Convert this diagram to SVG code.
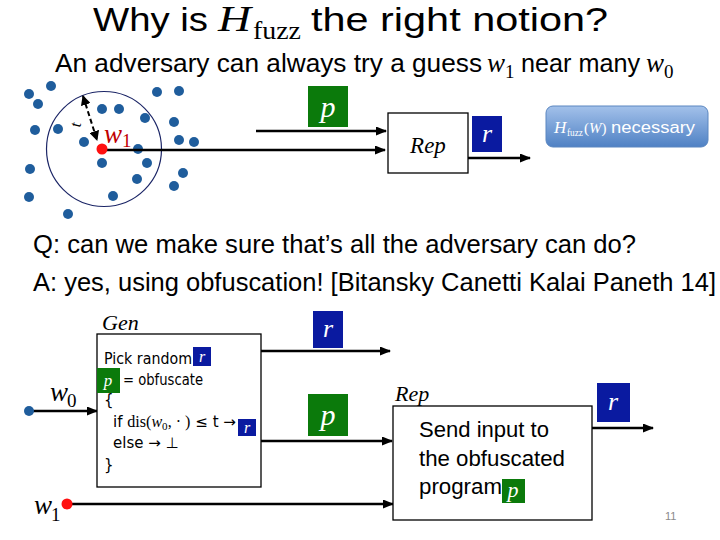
<svg xmlns="http://www.w3.org/2000/svg" width="720" height="540" viewBox="0 0 720 540">
<style>
.sans{font-family:"Liberation Sans",Arial,sans-serif;fill:#000}
.math{font-family:"Liberation Serif","Times New Roman",serif;font-style:italic}
.rom{font-family:"Liberation Serif","Times New Roman",serif}
.code{font-family:"DejaVu Sans",Verdana,sans-serif;font-size:15px;fill:#000}
.dot{fill:#1f5d9c}
.red{fill:#ff1010}
.wire{stroke:#000;stroke-width:2.5;fill:none}
.box{fill:#fff;stroke:#000;stroke-width:1.3}
.gbox{fill:#0b7a0b}
.bbox{fill:#0a1aa0}
.var{font-family:"Liberation Serif","Times New Roman",serif;font-style:italic;fill:#fff}
.wt{fill:#fff}
</style>
<defs>
<marker id="ah" markerUnits="userSpaceOnUse" markerWidth="11" markerHeight="9" refX="10" refY="4.5" orient="auto">
<path d="M0,0 L11,4.5 L0,9 z" fill="#000"/>
</marker>
<marker id="ahs" markerUnits="userSpaceOnUse" markerWidth="10" markerHeight="10" refX="9" refY="5" orient="auto-start-reverse">
<path d="M0,0 L10,5 L0,10 z" fill="#000"/>
</marker>
<linearGradient id="bg" x1="0" y1="0" x2="0" y2="1">
<stop offset="0" stop-color="#a3c1ea"/>
<stop offset="1" stop-color="#4f81c4"/>
</linearGradient>
</defs>

<g id="title">
<text class="sans" x="93" y="31" font-size="34" textLength="115" lengthAdjust="spacingAndGlyphs">Why is</text>
<text class="math" x="218" y="31" font-size="36" textLength="33" lengthAdjust="spacingAndGlyphs">H</text>
<text class="rom" x="253" y="39" font-size="26" textLength="48" lengthAdjust="spacingAndGlyphs">fuzz</text>
<text class="sans" x="311" y="31" font-size="34" textLength="297" lengthAdjust="spacingAndGlyphs">the right notion?</text>
</g>

<g id="subtitle">
<text class="sans" x="55" y="72" font-size="26" textLength="427" lengthAdjust="spacingAndGlyphs">An adversary can always try a guess</text>
<text class="math" x="487" y="72" font-size="27">w</text>
<text class="rom" x="505" y="78" font-size="19">1</text>
<text class="sans" x="521" y="72" font-size="26" textLength="119" lengthAdjust="spacingAndGlyphs">near many</text>
<text class="math" x="646" y="72" font-size="27">w</text>
<text class="rom" x="664" y="78" font-size="19">0</text>
</g>

<g id="cloud">
<circle cx="104" cy="149" r="57.5" fill="none" stroke="#1b2566" stroke-width="1.2"/>
<circle class="dot" cx="29" cy="94" r="5"/>
<circle class="dot" cx="51" cy="86" r="5"/>
<circle class="dot" cx="38" cy="104" r="5"/>
<circle class="dot" cx="35" cy="130" r="5"/>
<circle class="dot" cx="58" cy="129" r="5"/>
<circle class="dot" cx="102" cy="109" r="5"/>
<circle class="dot" cx="119" cy="109" r="5"/>
<circle class="dot" cx="157" cy="92" r="5"/>
<circle class="dot" cx="179" cy="91" r="5"/>
<circle class="dot" cx="145" cy="118" r="5"/>
<circle class="dot" cx="174" cy="122" r="5"/>
<circle class="dot" cx="84" cy="142" r="5"/>
<circle class="dot" cx="138" cy="149" r="5"/>
<circle class="dot" cx="179" cy="140" r="5"/>
<circle class="dot" cx="194" cy="142" r="5"/>
<circle class="dot" cx="102" cy="163" r="5"/>
<circle class="dot" cx="147" cy="163" r="5"/>
<circle class="dot" cx="30" cy="169" r="5"/>
<circle class="dot" cx="137" cy="179" r="5"/>
<circle class="dot" cx="183" cy="173" r="5"/>
<circle class="dot" cx="174" cy="186" r="5"/>
<circle class="dot" cx="29" cy="197" r="5"/>
<circle class="dot" cx="113" cy="196" r="5"/>
<circle class="dot" cx="68" cy="214" r="5"/>
<line x1="83" y1="96" x2="97" y2="140" stroke="#000" stroke-width="2" stroke-dasharray="5,3" marker-start="url(#ahs)" marker-end="url(#ahs)"/>
<text class="rom" x="0" y="0" font-size="16" transform="translate(80,128) rotate(-75)">t</text>
<text class="math" x="104" y="143" font-size="27" fill="#c00000">w</text>
<text class="rom" x="122" y="147" font-size="19" fill="#c00000">1</text>
</g>

<g id="top-wires">
<line class="wire" x1="256" y1="131" x2="386" y2="131" marker-end="url(#ah)"/>
<line class="wire" x1="102" y1="150" x2="385" y2="150" marker-end="url(#ah)"/>
<line class="wire" x1="468" y1="158" x2="530" y2="158" marker-end="url(#ah)"/>
</g>
<circle class="red" cx="102" cy="149" r="5.5"/>

<g id="top-p">
<rect class="gbox" x="308" y="86" width="40" height="41"/>
<text class="var" x="328" y="117" font-size="30" text-anchor="middle">p</text>
</g>

<g id="top-rep">
<rect class="box" x="388" y="113" width="80" height="60"/>
<text class="math" x="428" y="153" font-size="23" text-anchor="middle">Rep</text>
</g>

<g id="top-r">
<rect class="bbox" x="472" y="116" width="30" height="36"/>
<text class="var" x="487" y="142" font-size="26" text-anchor="middle">r</text>
</g>

<g id="hfuzz">
<rect x="546" y="106" width="162" height="41" rx="7" fill="url(#bg)" stroke="#5a86c0" stroke-width="1"/>
<text class="math wt" x="554" y="133" font-size="17">H</text>
<text class="rom wt" x="567" y="136" font-size="10" textLength="16" lengthAdjust="spacingAndGlyphs">fuzz</text>
<text class="rom wt" x="584" y="133" font-size="15">(<tspan class="math">W</tspan>)</text>
<text class="sans" x="611" y="133" font-size="16" style="fill:#fff" textLength="84" lengthAdjust="spacingAndGlyphs">necessary</text>
</g>

<g id="qa">
<text class="sans" x="33" y="253" font-size="25" textLength="603" lengthAdjust="spacingAndGlyphs">Q: can we make sure that’s all the adversary can do?</text>
<text class="sans" x="33" y="291" font-size="25" textLength="683" lengthAdjust="spacingAndGlyphs">A: yes, using obfuscation! [Bitansky Canetti Kalai Paneth 14]</text>
</g>

<g id="bottom-wires">
<line class="wire" x1="29" y1="411" x2="97" y2="411" marker-end="url(#ah)"/>
<line class="wire" x1="261" y1="351" x2="390" y2="351" marker-end="url(#ah)"/>
<line class="wire" x1="261" y1="441" x2="392" y2="441" marker-end="url(#ah)"/>
<line class="wire" x1="67" y1="504" x2="393" y2="504" marker-end="url(#ah)"/>
<line class="wire" x1="592" y1="428" x2="653" y2="428" marker-end="url(#ah)"/>
</g>

<g id="w0">
<circle class="dot" cx="29" cy="411" r="5"/>
<text class="math" x="50" y="401" font-size="27">w</text>
<text class="rom" x="67" y="407" font-size="19">0</text>
</g>

<g id="w1">
<circle class="red" cx="67" cy="504" r="5.5"/>
<text class="math" x="34" y="514" font-size="27">w</text>
<text class="rom" x="51" y="521" font-size="19">1</text>
</g>

<g id="gen">
<text class="math" x="102" y="330" font-size="22">Gen</text>
<rect class="box" x="97" y="334" width="164" height="153"/>
<text class="code" x="104" y="364" textLength="88" lengthAdjust="spacingAndGlyphs">Pick random</text>
<rect class="bbox" x="193" y="347" width="18" height="19"/>
<text class="var" x="202" y="362" font-size="16" text-anchor="middle">r</text>
<rect class="gbox" x="97" y="368" width="23" height="25"/>
<text class="var" x="108" y="386" font-size="17" text-anchor="middle">p</text>
<text class="code" x="123" y="385" textLength="80" lengthAdjust="spacingAndGlyphs">= obfuscate</text>
<text class="code" x="104" y="405">{</text>
<text class="code" x="113" y="427" textLength="123" lengthAdjust="spacingAndGlyphs">if <tspan class="rom" font-size="16">dis(</tspan><tspan class="math" font-size="16">w</tspan><tspan class="rom" font-size="11" dy="3">0</tspan><tspan class="rom" font-size="16" dy="-3">, · )</tspan> ≤ t →</text>
<rect class="bbox" x="238" y="419" width="18" height="17"/>
<text class="var" x="247" y="433" font-size="16" text-anchor="middle">r</text>
<text class="code" x="113" y="448">else  → ⊥</text>
<text class="code" x="104" y="470">}</text>
</g>

<g id="mid-r">
<rect class="bbox" x="313" y="311" width="30" height="37"/>
<text class="var" x="328" y="337" font-size="26" text-anchor="middle">r</text>
</g>

<g id="mid-p">
<rect class="gbox" x="308" y="394" width="40" height="42"/>
<text class="var" x="328" y="425" font-size="30" text-anchor="middle">p</text>
</g>

<g id="rep2">
<text class="math" x="395" y="401" font-size="22">Rep</text>
<rect class="box" x="393" y="406" width="199" height="114"/>
<text class="sans" x="419" y="437" font-size="21.5" textLength="130" lengthAdjust="spacingAndGlyphs">Send input to</text>
<text class="sans" x="419" y="466" font-size="21.5" textLength="146" lengthAdjust="spacingAndGlyphs">the obfuscated</text>
<text class="sans" x="419" y="494" font-size="21.5" textLength="83" lengthAdjust="spacingAndGlyphs">program</text>
<rect class="gbox" x="502" y="479" width="23" height="24"/>
<text class="var" x="513" y="497" font-size="22" text-anchor="middle">p</text>
</g>

<g id="out-r">
<rect class="bbox" x="597" y="383" width="33" height="39"/>
<text class="var" x="613" y="410" font-size="26" text-anchor="middle">r</text>
</g>

<text x="665" y="520" font-family="Liberation Sans, Arial, sans-serif" font-size="11" fill="#8a8a8a">11</text>
</svg>
